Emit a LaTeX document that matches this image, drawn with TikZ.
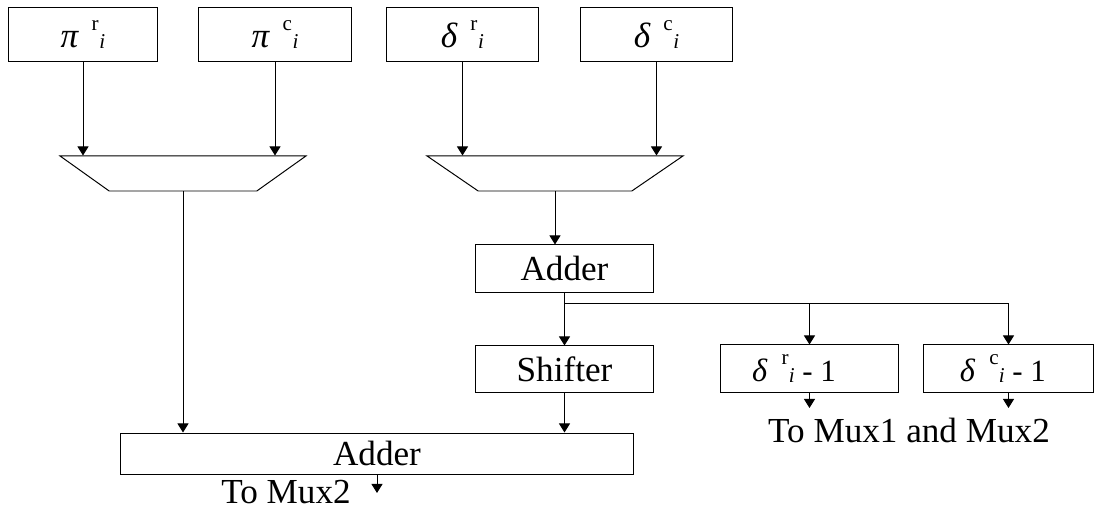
\documentclass[tikz,border=0pt]{standalone}
\usepackage{fontspec}
\setmainfont{Liberation Serif}
\usetikzlibrary{arrows.meta,shapes.geometric}

% 希腊字母加上标、下标
\newcommand{\gsym}[3]{{\fontsize{25}{28}\selectfont\textit{#1}}\hspace{9pt}\raisebox{12pt}{\fontsize{15}{15}\selectfont #2}\hspace{0.5pt}\raisebox{-0.5pt}{\fontsize{15}{15}\selectfont\textit{#3}}}
% 同上, 字母略小
\newcommand{\gsymsm}[3]{{\fontsize{23}{26}\selectfont\textit{#1}}\hspace{10pt}\raisebox{12pt}{\fontsize{15}{15}\selectfont #2}\raisebox{-0.5pt}{\fontsize{15}{15}\selectfont\textit{#3}}}

\begin{document}
\begin{tikzpicture}[x = 0.025cm, y = -0.025cm,
	every node/.style = {font = \fontsize{25}{30}\selectfont},
	blk/.style = {draw, line width = 0.7pt, inner sep = 0pt},
	mux/.style = {draw, line width = 0.7pt, trapezium, trapezium stretches = true, trapezium left angle = 108.4, trapezium right angle = 108.4, minimum height = 0.875cm},
	arr/.style = {line width = 0.7pt, -{Triangle[length = 0.23cm, width = 0.28cm]}},
	wire/.style = {line width = 0.7pt}]
	% 画布大小
	\useasboundingbox (0,0) rectangle (1094,510);
	
	% 四个输入寄存器
	\node[blk, minimum width = 3.7cm, minimum height = 1.325cm] (pir) at (83,34.5) {\gsym{π}{r}{i}};
	\node[blk, minimum width = 3.8cm, minimum height = 1.325cm] (pic) at (275,34.5) {\gsym{π}{c}{i}};
	\node[blk, minimum width = 3.775cm, minimum height = 1.325cm] (der) at (462.5,34.5) {\gsym{δ}{r}{i}};
	\node[blk, minimum width = 3.775cm, minimum height = 1.325cm] (dec) at (656.5,34.5) {\gsym{δ}{c}{i}};
	
	% 两个多路选择器(倒梯形)
	\node[mux, minimum width = 6.15cm] (mux1) at (183,173.5) {};
	\node[mux, minimum width = 6.4cm] (mux2) at (555,173.5) {};
	\draw[arr] (pir.south) -- (pir.south |- mux1.north);
	\draw[arr] (pic.south) -- (pic.south |- mux1.north);
	\draw[arr] (der.south) -- (der.south |- mux2.north);
	\draw[arr] (dec.south) -- (dec.south |- mux2.north);
	
	% 加法器与移位器
	\node[blk, minimum width = 4.425cm, minimum height = 1.175cm] (addA) at (564.5,268.5) {Adder};
	\draw[arr] (mux2.south) -- (mux2.south |- addA.north);
	\node[blk, minimum width = 4.425cm, minimum height = 1.15cm] (shift) at (564.5,369) {Shifter};
	\node[blk, minimum width = 4.425cm, minimum height = 1.175cm] (dr1) at (809.5,368.5) {\gsymsm{δ}{r}{i}{\fontsize{22}{26}\selectfont\ - 1}\kern22pt};
	\node[blk, minimum width = 4.225cm, minimum height = 1.175cm] (dc1) at (1008.5,368.5) {\gsymsm{δ}{c}{i}{\fontsize{22}{26}\selectfont\ - 1}\kern8pt};
	\coordinate (split) at (564.5,303);
	\draw[wire] (addA.south) -- (split);
	\draw[arr] (split) -- (shift.north);
	\draw[arr] (split) -| (dr1.north);
	\draw[arr] (split) -| (dc1.north);
	
	% 最后的加法器
	\node[blk, minimum width = 12.8cm, minimum height = 1.025cm] (addB) at (377,453.5) {Adder};
	\draw[arr] (mux1.south) -- (mux1.south |- addB.north);
	\draw[arr] (shift.south) -- (shift.south |- addB.north);
	
	% 输出
	\coordinate (outA) at (377,493);
	\coordinate (outr) at (809.5,408);
	\coordinate (outc) at (1008.5,408);
	\draw[arr] (addB.south) -- (outA);
	\draw[arr] (dr1.south) -- (outr);
	\draw[arr] (dc1.south) -- (outc);
	\node[inner sep = 0pt] (tomux2) at (286,492) {To Mux2};
	\node[inner sep = 0pt] (tomux12) at (909,430) {To Mux1 and Mux2};
\end{tikzpicture}
\end{document}
